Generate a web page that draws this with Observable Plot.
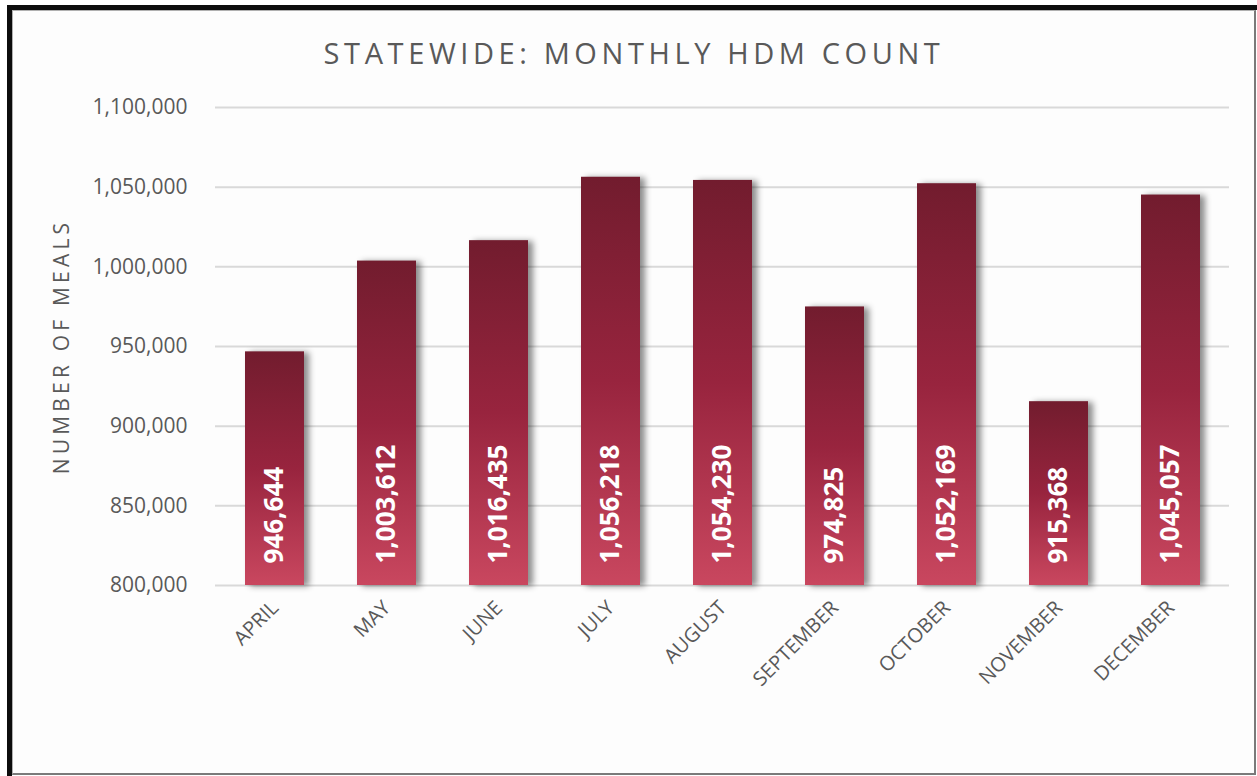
<!DOCTYPE html>
<html>
<head>
<meta charset="utf-8">
<script src="https://cdn.jsdelivr.net/npm/d3@7"></script>
<script src="https://cdn.jsdelivr.net/npm/@observablehq/plot@0.6"></script>
<style>
  html, body { margin: 0; padding: 0; background: #fff; }
  body { width: 1257px; height: 776px; position: relative; overflow: hidden; font-family: "Open Sans", sans-serif; }
  #outer { position: absolute; left: 7px; top: 5px; width: 1250px; height: 771px; box-sizing: border-box;
           border-top: 5px solid #0d0d0d; border-left: 5px solid #0d0d0d; }
  #inner { position: absolute; left: 12px; top: 10px; width: 1244px; height: 765px; box-sizing: border-box;
           border-top: 1px solid #b0b0b0; border-left: 1px solid #b0b0b0;
           border-right: 2px solid #7a7a7a; border-bottom: 2px solid #7a7a7a; background: #fdfdfd; }
  #title { position: absolute; left: 12px; width: 1244px; top: 38px; text-align: center;
           font-size: 29px; line-height: 29px; letter-spacing: 4.6px; color: #595959; font-family: "Open Sans", sans-serif; }
  #chart { position: absolute; left: 0; top: 80px; }
  #chart g[aria-label="bar"] { filter: drop-shadow(5px 1px 3px rgba(0,0,0,0.45)); }
  #chart .ylab text { letter-spacing: 4.2px; }
</style>
</head>
<body>
<div id="outer"></div>
<div id="inner"></div>
<div id="title">STATEWIDE: MONTHLY HDM COUNT</div>
<div id="chart"></div>
<script>
const months = ["APRIL", "MAY", "JUNE", "JULY", "AUGUST", "SEPTEMBER", "OCTOBER", "NOVEMBER", "DECEMBER"];
const meals = [946644, 1003612, 1016435, 1056218, 1054230, 974825, 1052169, 915368, 1045057];
const yTicks = [800000, 850000, 900000, 950000, 1000000, 1050000, 1100000];
const yLabel = "NUMBER OF MEALS";

const data = months.map((m, i) => ({month: m, meals: meals[i]}));
const fmt = d3.format(",");

const chart = Plot.plot({
  width: 1257,
  height: 690,
  marginTop: 27,
  marginBottom: 185,
  marginLeft: 215,
  marginRight: 28,
  style: {fontFamily: "Open Sans", color: "#595959", background: "transparent", overflow: "visible"},
  x: {domain: months, paddingInner: 0.475, paddingOuter: 0.2375, label: null},
  y: {domain: [800000, 1100000], label: null},
  marks: [
    Plot.gridY(yTicks, {stroke: "#d9d9d9", strokeOpacity: 1, strokeWidth: 2}),
    Plot.barY(data, {x: "month", y1: 800000, y2: "meals", fill: "url(#barGrad)"}),
    Plot.text(data, {x: "month", y: () => 800000, text: d => fmt(d.meals), rotate: -90, textAnchor: "start",
      dy: -22, fill: "white", fontWeight: "bold", fontSize: 26}),
    Plot.axisY(yTicks, {tickSize: 0, tickPadding: 28, fontSize: 21, tickFormat: fmt, label: null}),
    Plot.axisX({tickSize: 0, tickRotate: -45, tickPadding: 19, fontSize: 20, label: null}),
    Plot.text([yLabel], {frameAnchor: "left", rotate: -90, dx: -153, textAnchor: "middle", lineAnchor: "middle",
      fontSize: 21, fill: "#595959", className: "ylab"})
  ]
});

const svg = d3.select(chart);
const grad = svg.insert("defs", ":first-child").append("linearGradient")
  .attr("id", "barGrad").attr("x1", 0).attr("y1", 0).attr("x2", 0).attr("y2", 1);
grad.append("stop").attr("offset", "0%").attr("stop-color", "#721c2e");
grad.append("stop").attr("offset", "50%").attr("stop-color", "#98243e");
grad.append("stop").attr("offset", "100%").attr("stop-color", "#c9475f");

document.getElementById("chart").appendChild(chart);
</script>
</body>
</html>
